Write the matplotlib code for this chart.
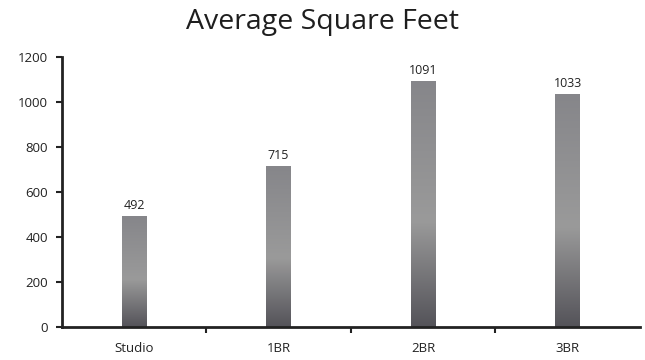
import numpy
from matplotlib import pyplot
from matplotlib.colors import LinearSegmentedColormap

categories = ['Studio', '1BR', '2BR', '3BR']
averageSquareFeet = [492, 715, 1091, 1033]
yTicks = [0, 200, 400, 600, 800, 1000, 1200]

pyplot.rcParams['font.family'] = ['Open Sans', 'DejaVu Sans']

# vertical shading of each bar: grey top, light band low down, dark base
barShade = LinearSegmentedColormap.from_list(
    'barShade', [(0.0, '#545359'), (0.43, '#9a9a9a'), (1.0, '#86868a')])

figure = pyplot.figure(figsize=(6.45, 3.6), dpi=100)
axes = figure.add_axes([0.096, 0.092, 0.896, 0.750])

barWidth = 0.17
gradient = numpy.linspace(0, 1, 256).reshape(-1, 1)
for index, value in enumerate(averageSquareFeet):
    axes.imshow(gradient, cmap=barShade, origin='lower', aspect='auto',
                extent=[index - barWidth/2, index + barWidth/2, 0, value],
                interpolation='bicubic', zorder=2)
    axes.text(index, value + 20, str(value), ha='center', va='bottom',
              fontsize=9, color='#222222')

axes.set_xlim(-0.5, len(categories) - 0.5)
axes.set_ylim(0, 1200)
axes.set_yticks(yTicks)
axes.set_xticks(numpy.arange(len(categories)))
axes.set_xticklabels(categories)
axes.set_xticks(numpy.arange(len(categories) - 1) + 0.5, minor=True)
axes.tick_params(axis='x', which='major', length=0, pad=11, labelsize=9.5, labelcolor='#222222')
axes.tick_params(axis='x', which='minor', length=4, width=1.5, color='#222222')
axes.tick_params(axis='y', length=4, width=1.5, color='#222222', labelsize=9.5,
                 labelcolor='#222222', pad=6)

for side in ['top', 'right']:
    axes.spines[side].set_visible(False)
for side in ['left', 'bottom']:
    axes.spines[side].set_linewidth(2)
    axes.spines[side].set_color('#222222')

figure.suptitle('Average Square Feet', fontsize=20.5, color='#1e1e1e', y=0.978)

figure.savefig('out.png', dpi=100)
